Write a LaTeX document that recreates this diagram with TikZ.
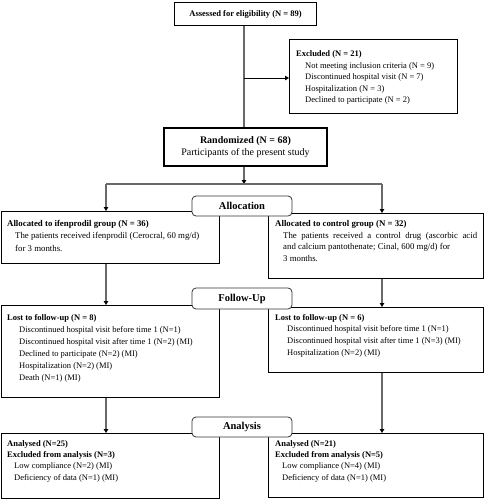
\documentclass[tikz,border=0pt]{standalone}
\usepackage{fontspec}
\setmainfont{Liberation Serif}
\usetikzlibrary{arrows.meta}
\definecolor{conngray}{RGB}{105,105,105}
\tikzset{
  boxshape/.style={draw=black, line width=1.2pt, fill=white, inner sep=0pt, anchor=north west},
  labelbox/.style={draw=black!80, line width=0.8pt, fill=white, rounded corners=4pt, inner sep=0pt, font=\fontsize{10.5}{12}\selectfont\bfseries},
  txt/.style={anchor=north west, inner sep=0pt, align=left, font=\fontsize{8.5}{11.5}\selectfont},
  conn/.style={draw=conngray, line width=1.1pt},
  arr/.style={conn, -{Triangle[length=4pt,width=4.5pt,color=black]}},
}
\newcommand{\ind}{\hspace*{9pt}}
\begin{document}
\begin{tikzpicture}[x=1pt,y=-1pt]
\useasboundingbox (0,0) rectangle (485,500);
% top boxes
\node[boxshape, minimum width=142pt, minimum height=23pt] (assess) at (174,2) {};
\node[font=\fontsize{8.5}{10}\selectfont\bfseries, inner sep=0pt] (tAssess) at (assess.center) {Assessed for eligibility (N = 89)};
\node[boxshape, minimum width=168pt, minimum height=74pt] (excl) at (289,39) {};
\node[txt] (tExcl) at (296,50.5) {\textbf{Excluded (N = 21)}\\
\ind Not meeting inclusion criteria (N = 9)\\
\ind Discontinued hospital visit (N = 7)\\
\ind Hospitalization (N = 3)\\
\ind Declined to participate (N = 2)};
\node[boxshape, line width=2pt, minimum width=163pt, minimum height=38pt] (rand) at (163,127) {};
\node[align=center, inner sep=0pt, font=\fontsize{10}{11.5}\selectfont] (tRand) at (rand.center) {\textbf{Randomized (N = 68)}\\Participants of the present study};
% allocation boxes
\node[boxshape, line width=1.4pt, minimum width=218pt, minimum height=52pt] (alloL) at (1,211) {};
\node[txt, font=\fontsize{8.8}{12.5}\selectfont] (tAlloL) at (7,220) {\textbf{Allocated to ifenprodil group (N = 36)}\\
\hspace*{8pt}The patients received ifenprodil (Cerocral, 60 mg/d)\\
\hspace*{8pt}for 3 months.};
\node[boxshape, line width=1.4pt, minimum width=215pt, minimum height=65pt] (alloR) at (268,213) {};
\node[txt, font=\fontsize{8.8}{11.5}\selectfont] (tAlloR) at (275,220.5) {\textbf{Allocated to control group (N = 32)}\\
\hspace*{8pt}\makebox[194pt][s]{The patients received a control drug (ascorbic acid}\\
\hspace*{8pt}and calcium pantothenate; Cinal, 600 mg/d) for\\
\hspace*{8pt}3 months.};
% follow-up boxes
\node[boxshape, minimum width=218pt, minimum height=92pt] (lostL) at (1,305) {};
\node[txt, font=\fontsize{8.5}{12}\selectfont] (tLostL) at (7,314.5) {\textbf{Lost to follow-up (N = 8)}\\
\hspace*{12pt}Discontinued hospital visit before time 1 (N=1)\\
\hspace*{12pt}Discontinued hospital visit after time 1 (N=2) (MI)\\
\hspace*{12pt}Declined to participate (N=2) (MI)\\
\hspace*{12pt}Hospitalization (N=2) (MI)\\
\hspace*{12pt}Death (N=1) (MI)};
\node[boxshape, minimum width=215pt, minimum height=65pt] (lostR) at (268,307) {};
\node[txt, font=\fontsize{8.5}{11.7}\selectfont] (tLostR) at (275,314) {\textbf{Lost to follow-up (N = 6)}\\
\hspace*{12pt}Discontinued hospital visit before time 1 (N=1)\\
\hspace*{12pt}Discontinued hospital visit after time 1 (N=3) (MI)\\
\hspace*{12pt}Hospitalization (N=2) (MI)};
% analysis boxes
\node[boxshape, minimum width=218pt, minimum height=65pt] (anaL) at (1,433) {};
\node[txt, font=\fontsize{8.5}{11.3}\selectfont] (tAnaL) at (7,440) {\textbf{Analysed (N=25)}\\
\textbf{Excluded from analysis (N=3)}\\
\hspace*{7pt}Low compliance (N=2) (MI)\\
\hspace*{7pt}Deficiency of data (N=1) (MI)};
\node[boxshape, minimum width=215pt, minimum height=64pt] (anaR) at (268,433) {};
\node[txt, font=\fontsize{8.5}{11.3}\selectfont] (tAnaR) at (275,440) {\textbf{Analysed (N=21)}\\
\textbf{Excluded from analysis (N=5)}\\
\hspace*{7pt}Low compliance (N=4) (MI)\\
\hspace*{7pt}Deficiency of data (N=1) (MI)};
% connectors
\coordinate (ej) at (244,78);
\coordinate (j) at (244,184);
\coordinate (jl) at (106,184);
\coordinate (jr) at (382,184);
\draw[conn] (assess.south -| ej) -- (rand.north -| ej);
\draw[arr, draw=black, line width=0.8pt] (ej) -- (ej -| excl.west);
\draw[arr] (rand.south -| j) -- (j);
\draw[conn] (jl) -- (jr);
\draw[arr] (jl) -- (jl |- alloL.north);
\draw[arr] (jr) -- (jr |- alloR.north);
\draw[arr] (alloL.south -| jl) -- (lostL.north -| jl);
\draw[arr] (alloR.south -| jr) -- (lostR.north -| jr);
\draw[arr] (lostL.south -| jl) -- (anaL.north -| jl);
\draw[arr] (lostR.south -| jr) -- (anaR.north -| jr);
% stage labels
\node[labelbox, minimum width=100pt, minimum height=20pt] (lAlloc) at (242,206) {Allocation};
\node[labelbox, minimum width=100pt, minimum height=21pt] (lFollow) at (242,298.5) {Follow-Up};
\node[labelbox, minimum width=100pt, minimum height=20pt] (lAna) at (242,427) {Analysis};
\end{tikzpicture}
\end{document}
